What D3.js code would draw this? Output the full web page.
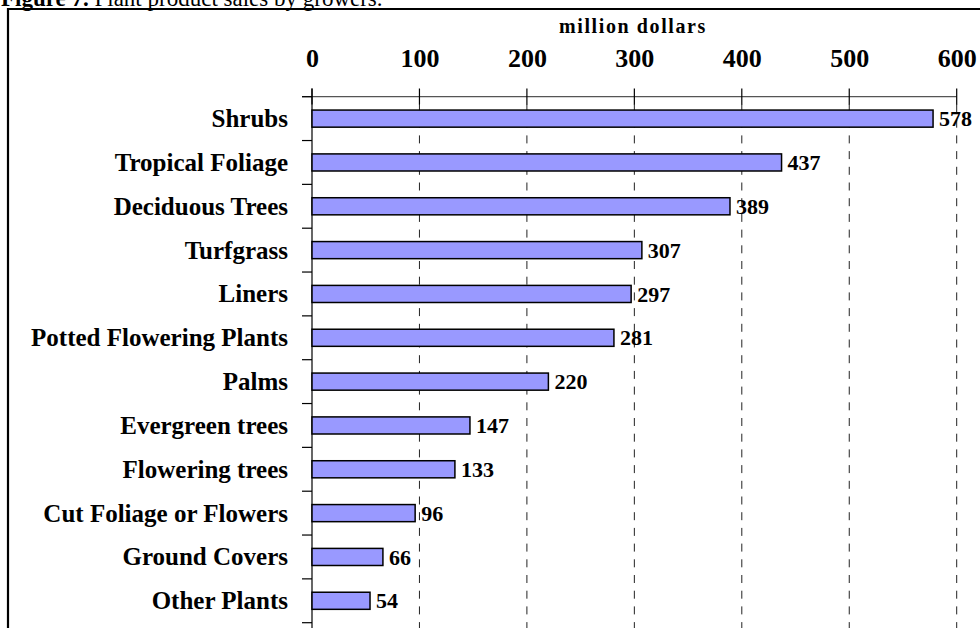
<!DOCTYPE html>
<html>
<head>
<meta charset="utf-8">
<script src="https://cdn.jsdelivr.net/npm/d3@7"></script>
<style>
  html, body { margin: 0; padding: 0; background: #fff; }
  svg { display: block; }
  text { font-family: "Liberation Serif", "Times New Roman", Times, serif; }
</style>
</head>
<body>
<svg id="chart" width="980" height="628"></svg>
<script>
const categories = ["Shrubs", "Tropical Foliage", "Deciduous Trees", "Turfgrass", "Liners",
  "Potted Flowering Plants", "Palms", "Evergreen trees", "Flowering trees",
  "Cut Foliage or Flowers", "Ground Covers", "Other Plants"];
const values = [578, 437, 389, 307, 297, 281, 220, 147, 133, 96, 66, 54];
const tickValues = [0, 100, 200, 300, 400, 500, 600];
const axisTitle = "million dollars";
const figureTitleBold = "Figure 7.";
const figureTitleRest = " Plant product sales by growers.";

const svg = d3.select("#chart");

// figure title (cut at top) and frame
const t = svg.append("text").attr("x", 1).attr("y", 6).attr("font-size", 23);
t.append("tspan").attr("font-weight", "bold").text(figureTitleBold);
t.append("tspan").text(figureTitleRest);

svg.append("path")
  .attr("d", "M8,640 L8,9 L990,9")
  .attr("fill", "none").attr("stroke", "#000").attr("stroke-width", 2.2);

const x = d3.scaleLinear().domain([0, 600]).range([312, 956.7]);
const y = d3.scaleBand().domain(categories).range([96.7, 622.7]).paddingInner(0.61).paddingOuter(0.305);
const step = y.step();

// dashed gridlines
svg.append("g").selectAll("line").data(tickValues.filter(d => d > 0)).join("line")
  .attr("x1", d => x(d)).attr("x2", d => x(d))
  .attr("y1", 104).attr("y2", 640)
  .attr("stroke", "#222").attr("stroke-width", 1)
  .attr("stroke-dasharray", "8,7.7");

// top axis
const xAxis = d3.axisTop(x).tickValues(tickValues).tickSize(0).tickFormat(d3.format("d"));
const gx = svg.append("g").attr("transform", "translate(0,96.7)").call(xAxis);
gx.select(".domain").remove();
gx.selectAll("text").attr("y", -30).attr("dy", 0)
  .attr("font-size", 26).attr("font-weight", "bold").attr("fill", "#000")
  .attr("font-family", '"Liberation Serif", "Times New Roman", serif');
// axis line and tick marks
svg.append("line").attr("x1", 302).attr("x2", x(600)).attr("y1", 96.7).attr("y2", 96.7)
  .attr("stroke", "#555").attr("stroke-width", 1.2);
svg.append("g").selectAll("line").data(tickValues).join("line")
  .attr("x1", d => x(d)).attr("x2", d => x(d))
  .attr("y1", 88.5).attr("y2", 104.5)
  .attr("stroke", "#000").attr("stroke-width", 1.2);

svg.append("text").attr("x", 633).attr("y", 33)
  .attr("text-anchor", "middle").attr("font-size", 20).attr("font-weight", "bold")
  .attr("letter-spacing", 1.6).text(axisTitle);

// category axis
svg.append("line").attr("x1", x(0)).attr("x2", x(0)).attr("y1", 88.5).attr("y2", 640)
  .attr("stroke", "#000").attr("stroke-width", 1.2);
const bounds = d3.range(categories.length + 1).map(i => 96.7 + i * step);
svg.append("g").selectAll("line").data(bounds).join("line")
  .attr("x1", 302).attr("x2", x(0))
  .attr("y1", d => d).attr("y2", d => d)
  .attr("stroke", "#000").attr("stroke-width", 1.2);

svg.append("g").selectAll("text").data(categories).join("text")
  .attr("x", 288).attr("y", d => y(d) + y.bandwidth() / 2)
  .attr("dy", "0.34em").attr("text-anchor", "end")
  .attr("font-size", 25).attr("font-weight", "bold").text(d => d);

// bars
const data = categories.map((c, i) => ({ c, v: values[i] }));
svg.append("g").selectAll("rect").data(data).join("rect")
  .attr("x", x(0)).attr("y", d => y(d.c))
  .attr("width", d => x(d.v) - x(0)).attr("height", y.bandwidth())
  .attr("fill", "#9999FF").attr("stroke", "#000").attr("stroke-width", 1.5);

svg.append("g").selectAll("text").data(data).join("text")
  .attr("x", d => x(d.v) + 6).attr("y", d => y(d.c) + y.bandwidth() / 2)
  .attr("dy", "0.35em").attr("font-size", 22).attr("font-weight", "bold")
  .text(d => d.v);
</script>
</body>
</html>
